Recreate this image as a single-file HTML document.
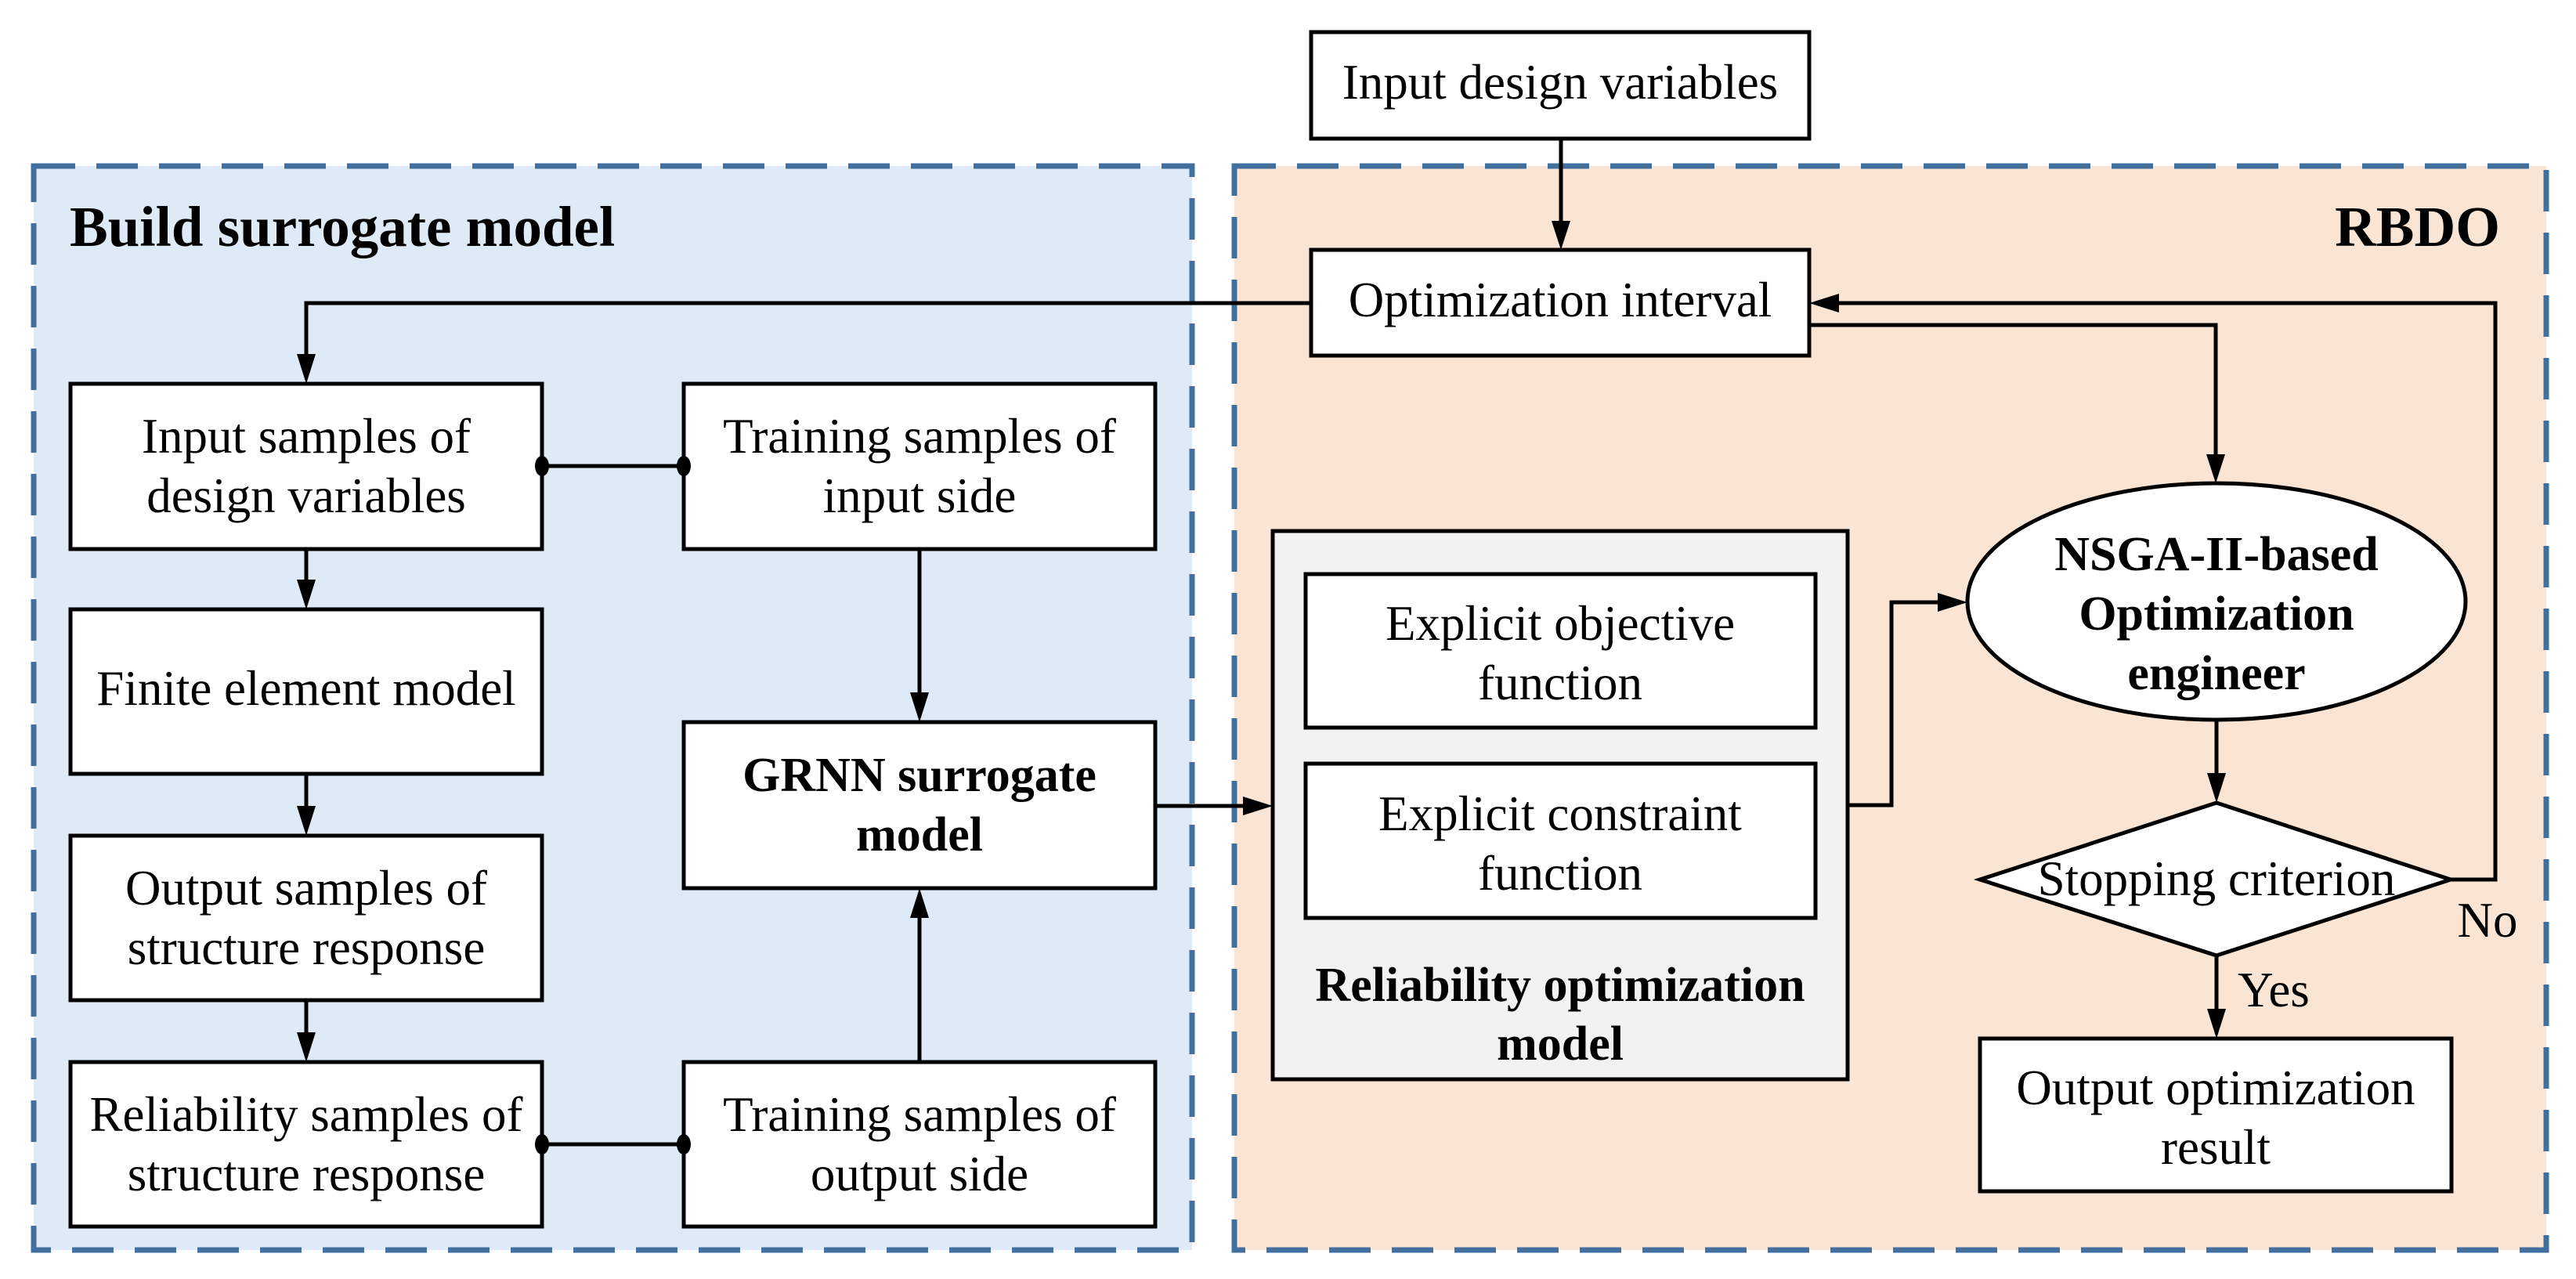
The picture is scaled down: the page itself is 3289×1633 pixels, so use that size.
<!DOCTYPE html>
<html><head><meta charset="utf-8"><style>
html,body{margin:0;padding:0;background:#fff;}
svg{display:block;}
text{font-family:"Liberation Serif",serif;fill:#000;}
</style></head><body>
<svg width="3289" height="1633" viewBox="0 0 3289 1633" xmlns="http://www.w3.org/2000/svg">
<!-- panels -->
<rect x="43" y="212" width="1479" height="1384" fill="#deeaf6" stroke="#41709f" stroke-width="7" stroke-dasharray="53,27"/>
<rect x="1576" y="212" width="1675" height="1384" fill="#fae5d5" stroke="#41709f" stroke-width="7" stroke-dasharray="53,27"/>
<text x="89" y="314" font-size="73" font-weight="bold">Build surrogate model</text>
<text x="3192" y="314" font-size="73" font-weight="bold" text-anchor="end">RBDO</text>

<g stroke="#000" stroke-width="5" fill="#fff">
<rect x="1674" y="41" width="636" height="136"/>
<rect x="1674" y="319" width="636" height="135"/>
<rect x="90" y="490" width="602" height="211"/>
<rect x="873" y="490" width="602" height="211"/>
<rect x="90" y="778" width="602" height="210"/>
<rect x="90" y="1067" width="602" height="210"/>
<rect x="90" y="1356" width="602" height="210"/>
<rect x="873" y="1356" width="602" height="210"/>
<rect x="873" y="922" width="602" height="212"/>
<rect x="1625" y="678" width="734" height="700" fill="#f2f2f2"/>
<rect x="1667" y="733" width="651" height="196"/>
<rect x="1667" y="975" width="651" height="197"/>
<ellipse cx="2830" cy="768" rx="318" ry="151"/>
<polygon points="2830,1025 3129,1123 2830,1220 2528,1123"/>
<rect x="2528" y="1326" width="602" height="195"/>
</g>

<g stroke="#000" stroke-width="5" fill="none">
<polyline points="1993,177 1993,290"/>
<polyline points="1674,387 391,387 391,460"/>
<polyline points="391,701 391,748"/>
<polyline points="391,988 391,1037"/>
<polyline points="391,1277 391,1326"/>
<polyline points="692,595 873,595"/>
<polyline points="692,1461 873,1461"/>
<polyline points="1174,701 1174,892"/>
<polyline points="1174,1356 1174,1164"/>
<polyline points="1475,1029 1595,1029"/>
<polyline points="2310,415 2829,415 2829,588"/>
<polyline points="2359,1028 2415,1028 2415,769 2482,769"/>
<polyline points="3129,1123 3186,1123 3186,387 2340,387"/>
<polyline points="2830,919 2830,995"/>
<polyline points="2830,1220 2830,1296"/>
</g>
<g fill="#000">
<polygon points="1981,282 2005,282 1993,319"/>
<polygon points="379,452 403,452 391,490"/>
<polygon points="379,740 403,740 391,778"/>
<polygon points="379,1029 403,1029 391,1067"/>
<polygon points="379,1318 403,1318 391,1356"/>
<polygon points="1162,884 1186,884 1174,922"/>
<polygon points="1162,1172 1186,1172 1174,1134"/>
<polygon points="1587,1017 1587,1041 1625,1029"/>
<polygon points="2817,580 2841,580 2829,617"/>
<polygon points="2474,757 2474,781 2512,769"/>
<polygon points="2818,987 2842,987 2830,1025"/>
<polygon points="2818,1288 2842,1288 2830,1326"/>
<polygon points="2348,375 2348,399 2310,387"/>
<ellipse cx="692" cy="595" rx="9" ry="13"/>
<ellipse cx="873" cy="595" rx="9" ry="13"/>
<ellipse cx="692" cy="1461" rx="9" ry="13"/>
<ellipse cx="873" cy="1461" rx="9" ry="13"/>
</g>

<g font-size="63" text-anchor="middle">
<text x="1992" y="126">Input design variables</text>
<text x="1992" y="404">Optimization interval</text>
<text x="391" y="578">Input samples of</text>
<text x="391" y="654">design variables</text>
<text x="1174" y="578">Training samples of</text>
<text x="1174" y="654">input side</text>
<text x="391" y="900">Finite element model</text>
<text x="391" y="1155">Output samples of</text>
<text x="391" y="1231">structure response</text>
<text x="391" y="1444">Reliability samples of</text>
<text x="391" y="1520">structure response</text>
<text x="1174" y="1444">Training samples of</text>
<text x="1174" y="1520">output side</text>
<text x="1992" y="817">Explicit objective</text>
<text x="1992" y="893">function</text>
<text x="1992" y="1060">Explicit constraint</text>
<text x="1992" y="1136">function</text>
<text x="2830" y="1143">Stopping criterion</text>
<text x="2829" y="1410">Output optimization</text>
<text x="2829" y="1486">result</text>
<text x="3176" y="1196">No</text>
<text x="2903" y="1285">Yes</text>
</g>
<g font-size="62" text-anchor="middle" font-weight="bold">
<text x="1174" y="1010">GRNN surrogate</text>
<text x="1174" y="1086">model</text>
<text x="1992" y="1278">Reliability optimization</text>
<text x="1992" y="1353">model</text>
<text x="2830" y="728">NSGA-II-based</text>
<text x="2830" y="804">Optimization</text>
<text x="2830" y="880">engineer</text>
</g>
</svg>
</body></html>
